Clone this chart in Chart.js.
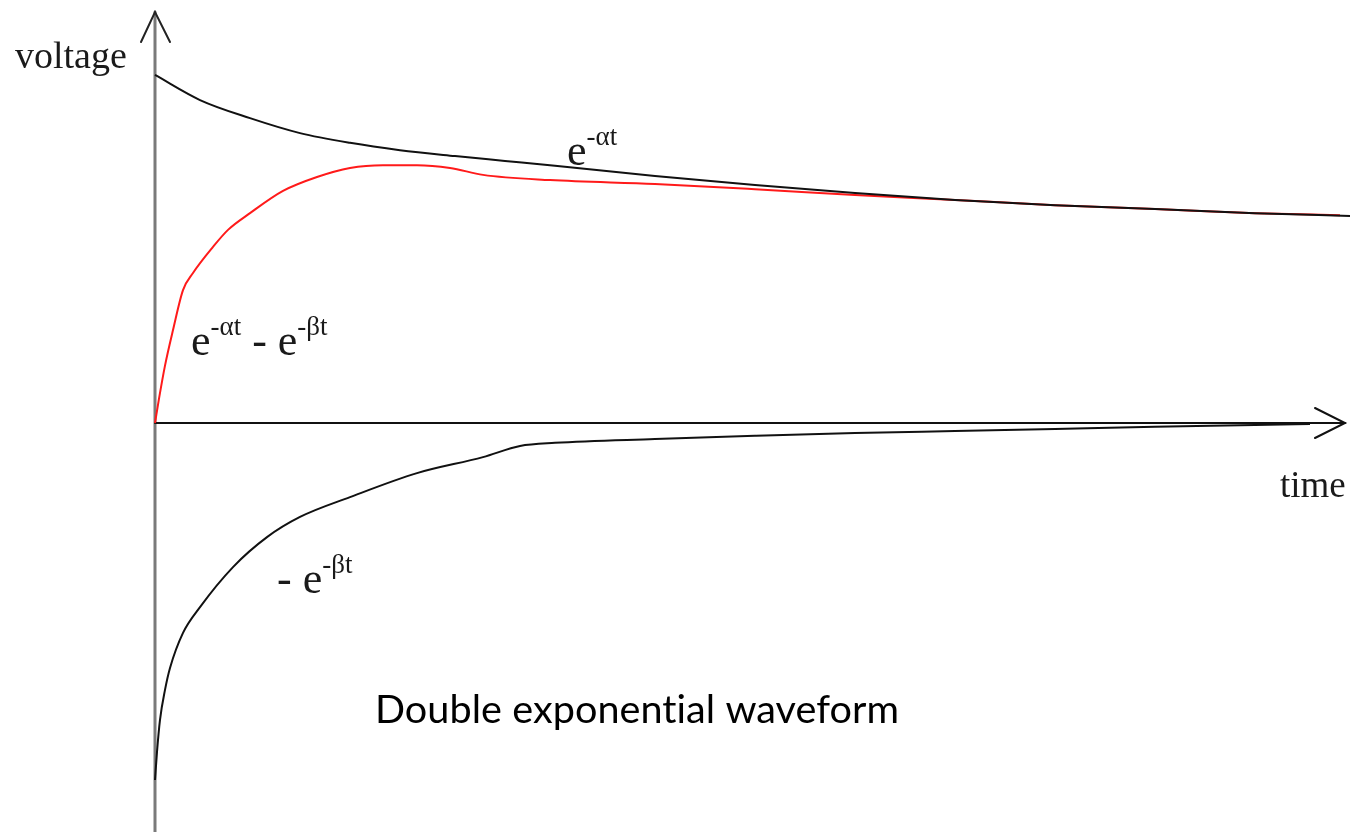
<!DOCTYPE html>
<html>
<head>
<meta charset="utf-8">
<script src="https://cdn.jsdelivr.net/npm/chart.js@4"></script>
<style>
  html, body { margin: 0; padding: 0; background: #fff; }
  #wrap { width: 1355px; height: 832px; }
</style>
</head>
<body>
<div id="wrap"><canvas id="chart" width="1355" height="832"></canvas></div>
<script>
// time in arbitrary units, voltage normalised so e^-at(0) = 1
const tAlpha = [0, 0.45, 0.95, 1.45, 1.95, 2.45, 3, 3.5, 4, 5, 6, 7, 8, 9, 10, 11, 11.95];
const vAlpha = [1.0, 0.928, 0.876, 0.833, 0.805, 0.784, 0.767, 0.753, 0.739, 0.710, 0.684, 0.661, 0.641, 0.626, 0.615, 0.603, 0.595];

const tDouble = [0, 0.04, 0.1, 0.18, 0.28, 0.38, 0.58, 0.73, 0.95, 1.28, 1.62, 1.95, 2.28, 2.62, 2.95, 3.28, 3.95, 5, 6, 7, 8, 9, 10, 11, 11.85];
const vDouble = [0.0, 0.07, 0.165, 0.267, 0.382, 0.431, 0.506, 0.555, 0.603, 0.667, 0.707, 0.733, 0.741, 0.741, 0.733, 0.713, 0.698, 0.687, 0.672, 0.655, 0.641, 0.626, 0.615, 0.603, 0.597];

const tBeta = [0, 0.02, 0.05, 0.1, 0.15, 0.28, 0.45, 0.78, 1.12, 1.45, 1.95, 2.62, 3.28, 3.65, 4, 5, 6, 7, 8, 9, 10, 11, 11.55];
const vBeta = [-1.026, -0.945, -0.853, -0.767, -0.704, -0.603, -0.529, -0.414, -0.328, -0.270, -0.213, -0.144, -0.098, -0.066, -0.057, -0.046, -0.037, -0.029, -0.023, -0.017, -0.011, -0.006, -0.003];

// axis extents (data units)
const xRange = [-1.55, 12];
const yRange = [-1.1753, 1.2155];
const axisTimeEnd = 11.9;
const axisVoltTop = 1.181;

const pts = (ts, vs) => ts.map((t, i) => ({ x: t, y: vs[i] }));

const serif = '"Liberation Serif", "Times New Roman", serif';

// draw e^(...) style expressions: parts = [[text, isSup], ...]
function drawExpr(ctx, parts, x, y) {
  let cx = x;
  parts.forEach(([txt, sup]) => {
    ctx.font = (sup ? '27px ' : '44px ') + serif;
    ctx.fillText(txt, cx, sup ? y - 20 : y);
    cx += ctx.measureText(txt).width;
  });
}

const decorations = {
  id: 'decorations',
  beforeDatasetsDraw(chart) {
    const { ctx, scales: { x, y } } = chart;
    const x0 = x.getPixelForValue(0), y0 = y.getPixelForValue(0);
    const yTop = y.getPixelForValue(axisVoltTop);
    const xEnd = x.getPixelForValue(axisTimeEnd);
    ctx.save();
    ctx.lineCap = 'round';
    // voltage axis
    ctx.strokeStyle = '#7a7a7a';
    ctx.lineWidth = 3;
    ctx.beginPath();
    ctx.moveTo(x0, chart.height);
    ctx.lineTo(x0, yTop);
    ctx.stroke();
    ctx.strokeStyle = '#222';
    ctx.lineWidth = 2;
    ctx.beginPath();
    ctx.moveTo(x0 - 14, yTop + 30);
    ctx.lineTo(x0, yTop);
    ctx.lineTo(x0 + 15, yTop + 30);
    ctx.stroke();
    // time axis
    ctx.strokeStyle = '#111';
    ctx.lineWidth = 2;
    ctx.beginPath();
    ctx.moveTo(x0, y0);
    ctx.lineTo(xEnd, y0);
    ctx.stroke();
    ctx.beginPath();
    ctx.moveTo(xEnd - 30, y0 - 15);
    ctx.lineTo(xEnd, y0);
    ctx.lineTo(xEnd - 30, y0 + 15);
    ctx.stroke();
    ctx.restore();
  },
  afterDatasetsDraw(chart) {
    const { ctx, scales: { x, y } } = chart;
    const px = (t) => x.getPixelForValue(t);
    const py = (v) => y.getPixelForValue(v);
    ctx.save();
    ctx.fillStyle = '#1a1a1a';
    ctx.textBaseline = 'alphabetic';
    ctx.font = '38px ' + serif;
    ctx.fillText('voltage', px(-1.40), py(1.020));
    ctx.font = '37px ' + serif;
    ctx.fillText('time', px(11.25), py(-0.213));

    drawExpr(ctx, [['e', false], ['-αt', true]], px(4.12), py(0.741));
    drawExpr(ctx, [['e', false], ['-αt', true], [' - ', false], ['e', false], ['-βt', true]], px(0.36), py(0.195));
    drawExpr(ctx, [['- ', false], ['e', false], ['-βt', true]], px(1.22), py(-0.489));

    // title sits inside the plot; a tiny letter spacing keeps Lato from using its "ti" ligature
    ctx.fillStyle = '#000';
    ctx.font = '39.6px Lato, "DejaVu Sans", sans-serif';
    ctx.letterSpacing = '0.05px';
    ctx.fillText('Double exponential waveform', px(2.20), py(-0.862));
    ctx.restore();
  }
};

new Chart(document.getElementById('chart'), {
  type: 'line',
  data: {
    datasets: [
      { label: 'e^-at', data: pts(tAlpha, vAlpha), borderColor: '#111', borderWidth: 2 },
      { label: 'e^-at - e^-bt', data: pts(tDouble, vDouble), borderColor: '#ff1a1a', borderWidth: 2 },
      { label: '-e^-bt', data: pts(tBeta, vBeta), borderColor: '#111', borderWidth: 2 }
    ]
  },
  options: {
    responsive: false,
    animation: false,
    layout: { padding: 0 },
    elements: {
      point: { radius: 0 },
      line: { cubicInterpolationMode: 'monotone', fill: false }
    },
    scales: {
      x: { type: 'linear', min: xRange[0], max: xRange[1], display: false },
      y: { type: 'linear', min: yRange[0], max: yRange[1], display: false }
    },
    plugins: {
      legend: { display: false },
      tooltip: { enabled: false }
    }
  },
  plugins: [decorations]
});
</script>
</body>
</html>
